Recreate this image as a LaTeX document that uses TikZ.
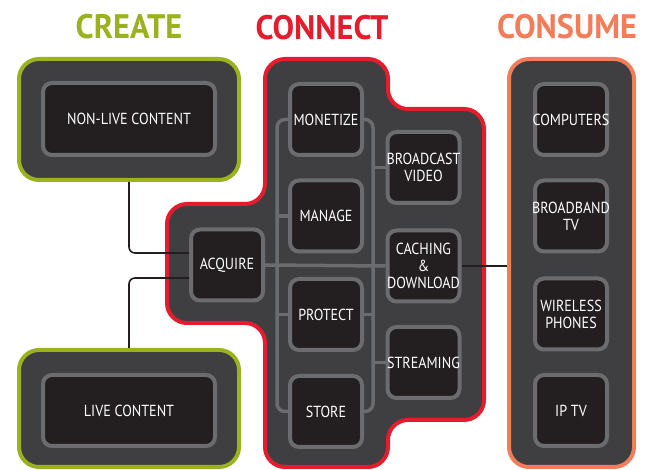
\documentclass[tikz,border=0pt]{standalone}
\usepackage{fontspec}
\newfontfamily\boxfont{PT Sans}[FakeStretch=0.88]
\newfontfamily\headfont{PT Sans}[FakeStretch=0.95]
\newcommand{\overhang}[1]{\makebox[0pt]{#1}}
\definecolor{createGreen}{HTML}{9BB21E}
\definecolor{connectRed}{HTML}{E31D2D}
\definecolor{consumeOrange}{HTML}{F27D5A}
\definecolor{panelGray}{HTML}{3F3F42}
\definecolor{boxBlack}{HTML}{231F20}
\definecolor{boxEdge}{HTML}{6B6C6F}

\begin{document}
\begin{tikzpicture}[x=1pt,y=-1pt]
    \tikzstyle{every node}=[inner sep=0pt, text=white, align=center, font=\boxfont\fontsize{16}{17}\selectfont];
    \tikzstyle{panel}=[draw, line width=4pt, fill=panelGray, rounded corners=20pt];
    \tikzstyle{item}=[draw=boxEdge, line width=4pt, fill=boxBlack, rounded corners=9pt, minimum width=72pt, minimum height=71pt];
    \tikzstyle{heading}=[font=\headfont\bfseries\fontsize{34}{36}\selectfont];
    \tikzstyle{bus}=[draw=boxEdge, line width=3.5pt, rounded corners=8pt];
    \tikzstyle{wire}=[draw=boxBlack, line width=1.6pt, rounded corners=6pt];
    \useasboundingbox (0,0) rectangle (654,470);

    \node[heading, text=createGreen] (createT) at (129,27) {CREATE};
    \node[heading, text=connectRed] (connectT) at (322,27.5) {CONNECT};
    \node[heading, text=consumeOrange] (consumeT) at (567,27) {CONSUME};

    \node[panel, draw=createGreen, minimum width=220pt, minimum height=121pt] (createA) at (129,119.5) {};
    \node[panel, draw=createGreen, minimum width=220pt, minimum height=117pt] (createB) at (129,408.5) {};
    \node[panel, draw=consumeOrange, minimum width=125pt, minimum height=408pt] (consume) at (571.5,263) {};
    \draw[panel, draw=connectRed] (320,59) -- (388,59) -- (388,109) -- (484,109) -- (484,420)
        -- (388,420) -- (388,467) -- (265,467) -- (265,323) -- (167,323) -- (167,204)
        -- (265,204) -- (265,59) -- cycle;

    \node[item, minimum width=172pt, minimum height=72pt] (nonlive) at (129,119) {NON-LIVE CONTENT};
    \node[item, minimum width=172pt] (live) at (129,410.5) {LIVE CONTENT};
    \node[item] (acquire) at (227,265) {ACQUIRE};
    \node[item] (monetize) at (326,119.5) {\overhang{MONETIZE}};
    \node[item] (manage) at (326,216) {MANAGE};
    \node[item] (protect) at (326,314.5) {PROTECT};
    \node[item] (store) at (326,411.5) {STORE};
    \node[item] (broadcast) at (423.5,167.5) {\overhang{BROADCAST}\\VIDEO};
    \node[item] (caching) at (423.5,266) {CACHING\\\&\\\overhang{DOWNLOAD}};
    \node[item] (streaming) at (423.5,362.5) {\overhang{STREAMING}};
    \node[item] (computers) at (571,119.5) {\overhang{COMPUTERS}};
    \node[item] (broadband) at (571,216) {\overhang{BROADBAND}\\TV};
    \node[item] (wireless) at (571,314) {WIRELESS\\PHONES};
    \node[item] (iptv) at (571,410.5) {IP TV};

    \coordinate (busL) at (277,265);
    \coordinate (busR) at (373,265);
    \draw[bus] (monetize.west) -| (busL) |- (store.west);
    \draw[bus] (monetize.east) -| (busR) |- (store.east);
    \draw[bus] (manage.west) -- (manage.west -| busL);
    \draw[bus] (protect.west) -- (protect.west -| busL);
    \draw[bus] (protect.east) -- (protect.east -| busR);
    \draw[bus] (broadcast.west) -- (broadcast.west -| busR);
    \draw[bus] (streaming.west) -- (streaming.west -| busR);
    \draw[bus] (acquire.east) -- (caching.west);

    \draw[wire] (createA.south) |- ([yshift=12pt]acquire.west);
    \draw[wire] ([yshift=-13pt]acquire.west) -| (createB.north);
    \draw[wire] (caching.east) -- (caching.east -| consume.west);
  \end{tikzpicture}
\end{document}
